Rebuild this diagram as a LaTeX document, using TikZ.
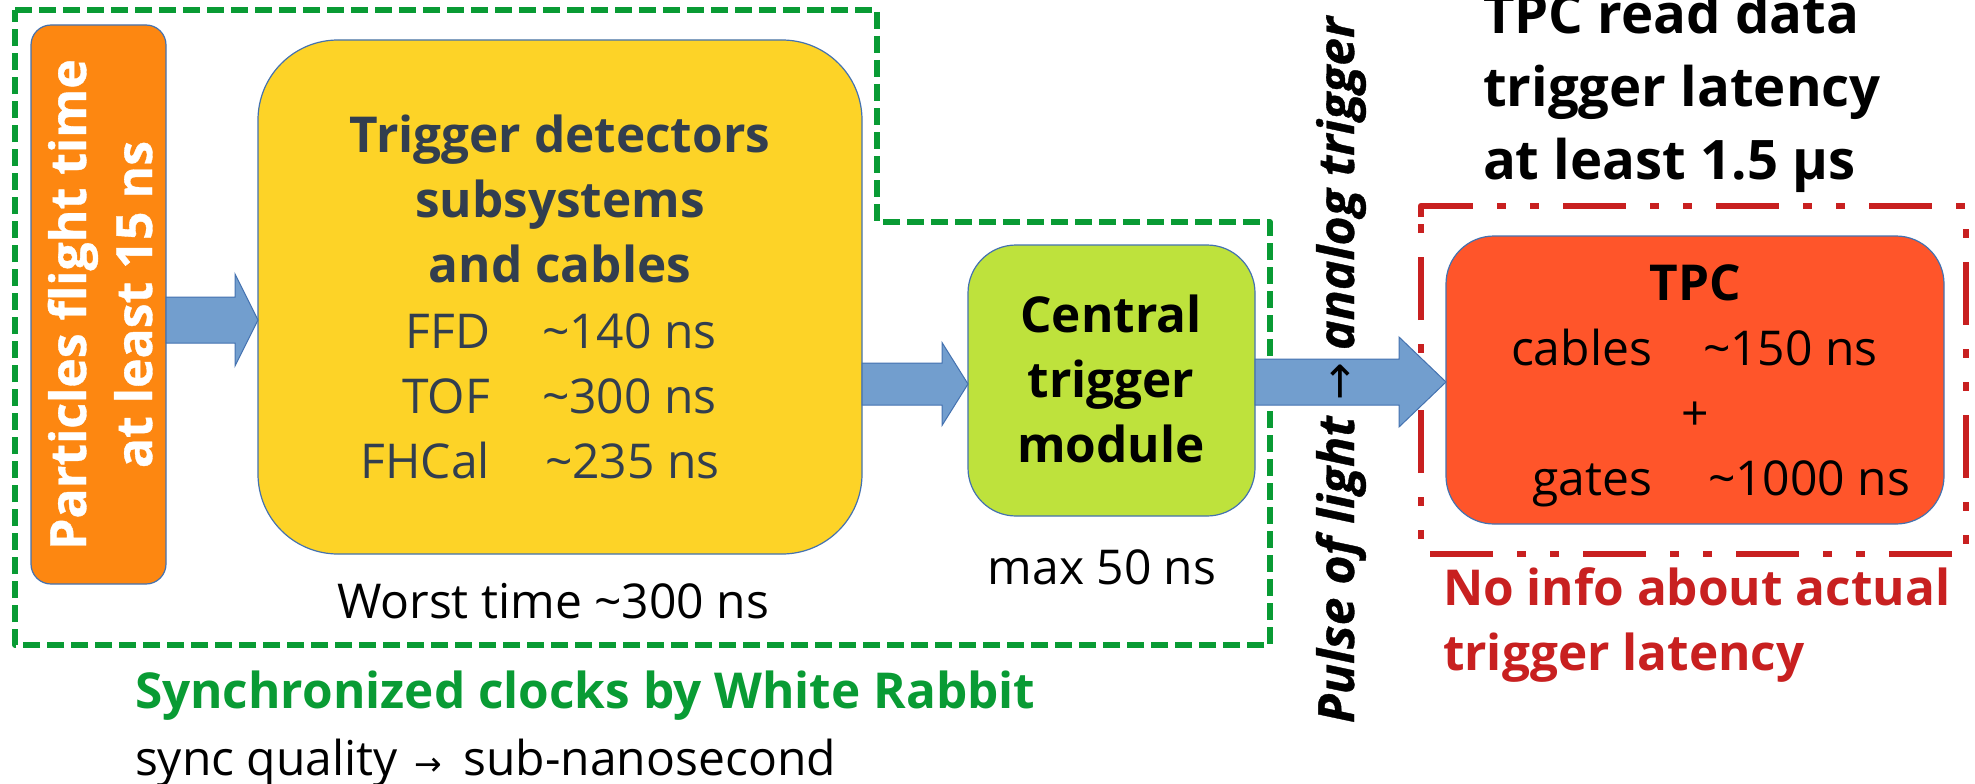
\documentclass[tikz,border=0pt]{standalone}
\usepackage{fontspec}
\setmainfont{Open Sans}
\newfontfamily\heavyfont{Open Sans}[BoldFeatures={FakeBold=0.7}, BoldItalicFeatures={FakeBold=0.7}]
\newfontfamily\symfont{DejaVu Sans}
\usetikzlibrary{calc}

\definecolor{boxline}{RGB}{68,114,176}
\definecolor{flightorange}{RGB}{253,135,17}
\definecolor{detyellow}{RGB}{253,211,39}
\definecolor{slate}{RGB}{50,62,79}
\definecolor{ctmgreen}{RGB}{190,226,60}
\definecolor{tpcred}{RGB}{255,85,42}
\definecolor{arrowblue}{RGB}{114,158,206}
\definecolor{wrgreen}{RGB}{9,155,52}
\definecolor{warnred}{RGB}{200,32,32}

\newcommand{\fsz}[1]{\fontsize{#1}{#1}\selectfont}

% block arrow from node #1 to node #2 along the height of coordinate #3;
% #4 = half shaft width, #5 = half head width, #6 = head length
\newcommand{\blockarrow}[6]{%
  \filldraw[arrowshape]
    ($(#1.east|-#3)+(0,-#4)$) -- ($(#2.west|-#3)+(-#6,-#4)$) --
    ($(#2.west|-#3)+(-#6,-#5)$) -- (#2.west|-#3) --
    ($(#2.west|-#3)+(-#6,#5)$) -- ($(#2.west|-#3)+(-#6,#4)$) --
    ($(#1.east|-#3)+(0,#4)$) -- cycle;}

\tikzset{
  block/.style={draw=boxline, line width=1.2pt, rounded corners=#1,
    inner sep=0pt, outer sep=0pt, anchor=center},
  arrowshape/.style={fill=arrowblue, draw=boxline, line width=1pt, line join=miter},
  txt/.style={inner sep=0pt, outer sep=0pt, anchor=base},
  reg/.style={txt, font=\fsz{48}},
  bld/.style={txt, font=\bfseries\fsz{49.5}},
}

\begin{document}
\begin{tikzpicture}[x=1pt, y=-1pt]
  \useasboundingbox (0,0) rectangle (1975,784);
  \fill[white] (0,0) rectangle (1975,784);

  % synchronized (White Rabbit) region
  \draw[wrgreen, line width=5.5pt, dash pattern=on 17pt off 7pt, line join=round]
    (15,10) -- (877,10) -- (877,222) -- (1270,222) -- (1270,645) -- (15,645) -- cycle;

  % TPC region, latency unknown
  \draw[warnred, line width=6.5pt, line join=round,
        dash pattern=on 63pt off 24pt on 9pt off 24pt on 9pt off 24pt]
    (1421,217) -- (1421,206) -- (1966,206) -- (1966,554) -- (1421,554) -- cycle;

  % blocks
  \node[block=20, fill=flightorange, minimum width=135, minimum height=559] (flight) at (98.5,304.5) {};
  \node[block=80, fill=detyellow, minimum width=604, minimum height=514] (det) at (560,297) {};
  \node[block=48, fill=ctmgreen, minimum width=287, minimum height=271] (ctm) at (1111.5,380.5) {};
  \node[block=48, fill=tpcred, minimum width=498, minimum height=288] (tpc) at (1695,380) {};

  % arrow heights
  \coordinate (a1) at (0,320);
  \coordinate (a2) at (0,384);
  \coordinate (a3) at (0,382);
  \blockarrow{flight}{det}{a1}{23}{46}{23}
  \blockarrow{det}{ctm}{a2}{21}{41.5}{26}
  \blockarrow{ctm}{tpc}{a3}{23}{45}{47}

  % flight time
  \node[txt, rotate=90, white, font=\heavyfont\bfseries\fsz{50}] (flight1) at (86,304.5) {Particles flight time};
  \node[txt, rotate=90, white, font=\heavyfont\bfseries\fsz{50}] (flight2) at (152,304.5) {at least 15 ns};

  % trigger detectors
  \node[bld, slate] (det1) at (560,152) {Trigger detectors};
  \node[bld, slate] (det2) at (560,217) {subsystems};
  \node[bld, slate] (det3) at (560,282) {and cables};
  \node[reg, slate, anchor=base east] (ffd) at (490,348) {FFD};
  \node[reg, slate, anchor=base west] (ffdt) at (542,348) {\textasciitilde140 ns};
  \node[reg, slate, anchor=base east] (tof) at (490,413) {TOF};
  \node[reg, slate, anchor=base west] (toft) at (542,413) {\textasciitilde300 ns};
  \node[reg, slate, anchor=base east] (fhcal) at (490,478) {FHCal};
  \node[reg, slate, anchor=base west] (fhcalt) at (545,478) {\textasciitilde235 ns};
  \node[reg, anchor=base west] (worst) at (337,618) {Worst time \textasciitilde300 ns};

  % central trigger module
  \node[bld] (ctm1) at (1111,332) {Central};
  \node[bld] (ctm2) at (1111,397) {trigger};
  \node[bld] (ctm3) at (1111,462) {module};
  \node[reg] (ctmt) at (1102,584) {max 50 ns};

  % trigger signal
  \node[txt, rotate=90, font=\heavyfont\bfseries\itshape\fsz{50}] (pulse) at (1354,370)
    {Pulse of light\hspace{16pt}{\symfont\upshape\mdseries\fsz{45}→}\hspace{12.5pt}analog trigger};

  % TPC
  \node[bld] (tpc1) at (1695,300) {TPC};
  \node[reg, anchor=base east] (cab) at (1652,365) {cables};
  \node[reg, anchor=base west] (cabt) at (1703,365) {\textasciitilde150 ns};
  \node[reg] (plus) at (1695,430) {+};
  \node[reg, anchor=base east] (gat) at (1652,495) {gates};
  \node[reg, anchor=base west] (gatt) at (1708,495) {\textasciitilde1000 ns};

  \node[txt, anchor=base west, font=\bfseries\fsz{54.5}] (lat1) at (1483,34) {TPC read data};
  \node[txt, anchor=base west, font=\bfseries\fsz{54.5}] (lat2) at (1483,106) {trigger latency};
  \node[txt, anchor=base west, font=\bfseries\fsz{54.5}] (lat3) at (1483,179) {at least 1.5 μs};

  \node[bld, warnred, anchor=base west] (noinfo1) at (1443,605) {No info about actual};
  \node[bld, warnred, anchor=base west] (noinfo2) at (1443,670) {trigger latency};

  % White Rabbit
  \node[bld, wrgreen, anchor=base west] (wr) at (135,708) {Synchronized clocks by White Rabbit};
  \node[reg, anchor=base west] (syncq) at (135,775)
    {sync quality\hspace{17pt}{\symfont\fsz{33}→}\hspace{21pt}sub-nanosecond};
\end{tikzpicture}
\end{document}
